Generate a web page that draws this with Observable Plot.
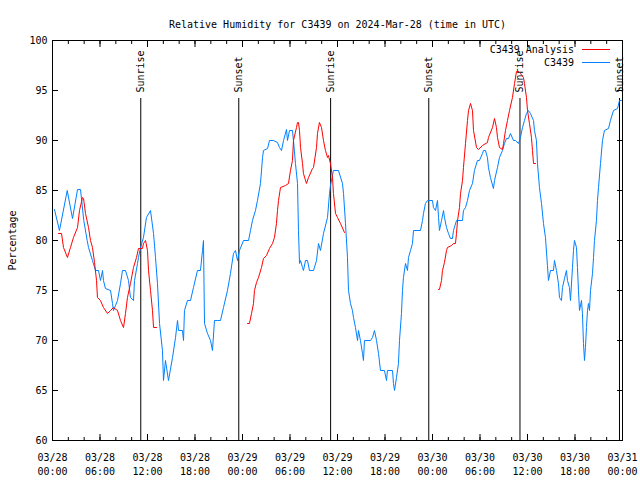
<!DOCTYPE html>
<html>
<head>
<meta charset="utf-8">
<script src="https://cdn.jsdelivr.net/npm/d3@7"></script>
<script src="https://cdn.jsdelivr.net/npm/@observablehq/plot@0.6"></script>
<style>
  html, body { margin: 0; padding: 0; background: #fff; }
  #wrap { position: relative; width: 640px; height: 480px; font-family: "DejaVu Sans Mono", monospace; }
  #legend { position: absolute; top: 43px; right: 30px; font-size: 10px; line-height: 13px; color: #000; }
  #legend .row { display: flex; align-items: center; justify-content: flex-end; height: 13px; }
  #legend .sw { width: 28px; height: 0; margin-left: 8px; }
</style>
</head>
<body>
<div id="wrap"></div>
<script>
// ---- data (hours since 2024-03-28 00:00 UTC) ----
const titleText = "Relative Humidity for C3439 on 2024-Mar-28 (time in UTC)";
const yLabel = "Percentage";
const seriesNames = ["C3439 Analysis", "C3439"];
const seriesColors = ["#ff0000", "#0080ff"];

const obsHours = [0.25,0.88,1.86,2.53,3.16,3.54,3.95,4.38,4.55,5.05,5.43,5.81,6.06,6.32,6.44,6.69,7.33,7.58,7.70,7.96,8.21,8.59,8.84,9.22,9.60,9.85,10.23,10.36,10.74,10.86,11.12,11.49,11.87,12.38,12.76,13.01,13.26,13.52,13.89,14.02,14.27,14.65,15.16,15.54,15.79,15.92,16.42,16.55,16.67,17.05,17.43,17.81,18.31,18.69,18.95,19.07,19.20,19.58,19.96,20.21,20.46,20.84,21.22,21.60,22.10,22.48,22.86,23.11,23.37,23.62,24.13,24.76,25.01,25.26,25.64,25.89,26.27,26.53,26.65,27.16,27.41,27.91,28.42,28.67,28.93,29.18,29.56,29.68,29.94,30.31,30.44,30.69,30.95,31.07,31.20,31.33,31.58,31.70,31.96,32.21,32.46,32.97,33.35,33.60,33.85,34.23,34.74,34.99,35.11,35.49,36.12,36.63,36.76,37.01,37.26,37.39,37.64,37.89,38.02,38.27,38.53,38.65,38.90,39.16,39.28,39.41,40.17,40.42,40.67,40.93,41.18,41.43,41.93,42.19,42.31,42.95,43.07,43.20,43.45,43.70,43.83,44.08,44.21,44.33,44.59,44.84,44.97,45.22,45.47,45.60,46.48,46.74,46.86,47.11,47.37,48.00,48.12,48.38,48.63,48.76,48.88,49.14,49.39,49.51,49.77,50.02,50.27,50.52,50.65,51.03,51.79,51.91,52.17,52.42,52.67,53.05,53.30,53.68,53.93,54.31,54.44,54.69,54.94,55.07,55.32,55.70,55.83,56.21,56.46,56.84,57.09,57.35,57.60,57.85,58.23,58.48,58.86,59.11,59.37,59.62,59.87,60.12,60.38,60.76,60.88,61.13,61.26,61.51,61.77,62.02,62.27,62.52,62.65,62.90,63.28,63.41,63.66,63.91,64.04,64.29,64.42,64.67,64.92,65.05,65.30,65.43,65.68,65.81,65.93,66.19,66.31,66.44,66.57,66.82,66.94,67.07,67.20,67.32,67.45,67.58,67.70,67.83,67.96,68.21,68.34,68.46,68.71,68.84,68.97,69.22,69.47,69.72,70.23,70.48,70.86,71.37,71.62,71.87];
const obsValues = [83.1,81,85,82.2,85.1,85.1,82,80,79.3,78,77,77,76,77,76,75.2,75,73.7,73,73.5,74,75.7,77,77,76,74.3,74,76,77.7,78.3,79.3,80.3,82.3,83,80.7,78.3,75.7,71.7,69,66,68,66,68.3,70.3,72,71,71,70,73,74,74,75.3,77,77,79,80,71.7,70.7,70,69,72,72,72,73.3,75,76.7,78.7,79,78,79,80,80,81,82,83,84,85.7,88.3,89,89.2,90,90,89.8,89.3,89,90,91.1,90,91,91,90,87.7,85.7,81,77.7,78,77.3,77,78,78,77,77,78,79.7,79,80.7,82.3,84.7,85.5,87,87,85.7,84.7,81.7,78.3,75,73.7,73,72.3,71.3,70,71,70,68.7,68,70,70,70.3,71,70,68.7,67,67,66,67,67,65.7,65,66.3,67.7,70,72.7,75,76.3,77.7,77,78.3,79,79.7,81,81,82,82.7,83.7,84,84,83.3,83,84,82.3,81,82,83,82.3,81.3,80.7,80.2,80.2,81,82,82,83,83.3,84,85,85.7,87,88,88,88.7,89,89,88.3,87.3,86.3,85.2,86,87.3,88.3,89,89.7,90.2,90.2,90.7,90,90,89.7,90.3,91.3,92,92.7,93,92.7,92,91,90,87.7,85.3,83.7,81.7,80.3,77.5,76,77,77,78,77,75.7,74.3,74,75.3,76.2,77,76,75.3,74,77.3,79,80,79.3,77.3,75,73,74,72.7,69.7,68,69.3,71.3,73,73.7,73,75,76.7,78.3,80,82,84,85.3,87.7,90,91,91.2,92,93,93.2,94,94];

// analysis series; null marks a gap between segments
const anaHours = [0.76,1.14,1.39,1.89,2.27,2.65,3.16,3.41,3.79,3.92,4.17,4.55,4.80,5.05,5.31,5.56,5.68,6.06,6.44,6.95,7.33,7.70,8.21,8.59,8.97,9.22,9.47,9.85,10.23,10.61,10.86,11.37,11.49,11.75,12.00,12.13,12.38,12.63,12.76,13.14,
  18.0,
  24.63,24.88,25.14,25.39,25.51,25.77,26.02,26.40,26.65,27.03,27.41,27.79,28.04,28.29,28.42,28.55,28.80,29.43,29.81,30.06,30.31,30.44,30.82,30.95,31.07,31.20,31.33,31.58,31.70,32.08,32.34,32.84,32.97,33.35,33.47,33.72,33.98,34.23,34.48,34.74,34.86,35.11,35.37,35.49,35.75,36.00,36.38,36.88,
  42.0,
  48.76,48.88,49.14,49.26,49.51,49.77,49.89,50.40,50.65,50.90,51.03,51.16,51.41,51.54,51.79,51.91,52.17,52.42,52.55,52.80,53.05,53.18,53.56,53.81,54.31,54.94,55.07,55.58,55.83,56.08,56.21,56.46,56.84,56.97,57.22,57.47,57.73,58.10,58.36,58.61,58.86,59.11,59.49,59.62,59.87,60.00,60.25,60.50,60.63,60.76,61.01];
const anaValues = [80.7,80.7,79.3,78.3,79.3,80.3,81.3,83,84.3,84.2,82.7,81.3,80,79.3,77.8,76,74.3,74,73.3,72.7,73,73.3,73,72,71.3,72.7,74.3,75.7,77.3,78.3,79.2,79.2,79.7,80,79,77,75,73,71.3,71.3,
  null,
  71.7,71.7,72.7,73.7,75,75.8,76.3,77.3,78.2,78.5,79.2,79.7,80.3,81.7,83,84,85.3,85.5,85.7,87,88,90,91.3,91.8,91.8,91,89.3,87.7,86.7,85.7,86.3,87.2,87.3,89.3,90.7,91.8,91.3,90,89,88.3,88.5,87.7,86.3,84.7,82.7,82.3,81.7,80.8,
  null,
  75.1,75.1,76,77,77.8,79,79.3,79.5,79.7,79.7,80.7,82,83.3,84.7,86,87.3,89.7,92,93,93.7,93,91,89.3,89.1,89.5,89.8,90.3,91.3,92.2,91.3,90.3,89.3,89.1,89.7,91,92,93,94.3,95.7,96.9,96.9,96.7,96.3,95.7,94.3,93,91.7,90.3,89,87.7,87.7];

const sunHours = [11.15, 23.53, 35.13, 47.53, 59.05, 71.62];
const sunLabels = ["Sunrise", "Sunset", "Sunrise", "Sunset", "Sunrise", "Sunset"];

const yTicks = [60, 65, 70, 75, 80, 85, 90, 95, 100];
const yDomain = [60, 100];

// ---- build ----
const t0 = Date.UTC(2024, 2, 28);
const toDate = h => new Date(t0 + h * 3600e3);
const xDomain = [toDate(0), toDate(72)];
const obs = obsHours.map((h, i) => ({t: toDate(h), v: obsValues[i]}));
const ana = anaHours.map((h, i) => ({t: toDate(h), v: anaValues[i]}));
const sun = sunHours.map((h, i) => ({t: toDate(h), label: sunLabels[i]}));

const majorTicks = d3.utcHour.every(6).range(xDomain[0], new Date(+xDomain[1] + 1));
const minorTicks = d3.utcHour.every(2).range(xDomain[0], new Date(+xDomain[1] + 1));
const fmtDate = d3.utcFormat("%m/%d");
const fmtTime = d3.utcFormat("%H:%M");

const chart = Plot.plot({
  width: 640,
  height: 480,
  marginLeft: 52,
  marginRight: 18,
  marginTop: 40,
  marginBottom: 40,
  style: {fontFamily: "DejaVu Sans Mono, monospace", fontSize: "10px", background: "#fff", color: "#000"},
  x: {type: "utc", domain: xDomain},
  y: {domain: yDomain},
  marks: [
    Plot.frame({stroke: "#000", strokeWidth: 1}),
    // y axis labels + inward ticks
    Plot.axisY({ticks: yTicks, tickSize: 0, tickPadding: 5, fontSize: 10,
      label: yLabel, labelAnchor: "center", labelArrow: "none", labelOffset: 44}),
    Plot.axisY({anchor: "left", ticks: yTicks, tickSize: -6, text: null, label: null}),
    Plot.axisY({anchor: "right", ticks: yTicks, tickSize: -6, text: null, label: null}),
    // x axis labels + inward ticks
    Plot.axisX({anchor: "bottom", ticks: majorTicks, tickSize: 0, tickPadding: 10, lineHeight: 1.45, fontSize: 10,
      tickFormat: d => fmtDate(d) + "\n" + fmtTime(d), label: null}),
    Plot.axisX({anchor: "bottom", ticks: minorTicks, tickSize: -3, text: null, label: null}),
    Plot.axisX({anchor: "bottom", ticks: majorTicks, tickSize: -6, text: null, label: null}),
    Plot.axisX({anchor: "top", ticks: minorTicks, tickSize: -3, text: null, label: null}),
    Plot.axisX({anchor: "top", ticks: majorTicks, tickSize: -6, text: null, label: null}),
    // sunrise / sunset
    Plot.ruleX(sun, {x: "t", y1: yDomain[0], y2: 94.2, stroke: "#000", strokeWidth: 1}),
    Plot.text(sun, {x: "t", y: 94.8, text: "label", rotate: -90, textAnchor: "start", fontSize: 10, fill: "#000"}),
    // series
    Plot.line(obs, {x: "t", y: "v", stroke: seriesColors[1], strokeWidth: 1}),
    Plot.line(ana, {x: "t", y: "v", stroke: seriesColors[0], strokeWidth: 1}),
    // title
    Plot.text([titleText], {frameAnchor: "top", dy: -20, fontSize: 10, fill: "#000"})
  ]
});

const wrap = document.getElementById("wrap");
wrap.appendChild(chart);

const legend = document.createElement("div");
legend.id = "legend";
seriesNames.forEach((name, i) => {
  const row = document.createElement("div");
  row.className = "row";
  const s = document.createElement("span");
  s.textContent = name;
  const sw = document.createElement("div");
  sw.className = "sw";
  sw.style.borderTop = "1px solid " + seriesColors[i];
  row.appendChild(s);
  row.appendChild(sw);
  legend.appendChild(row);
});
wrap.appendChild(legend);
</script>
</body>
</html>
